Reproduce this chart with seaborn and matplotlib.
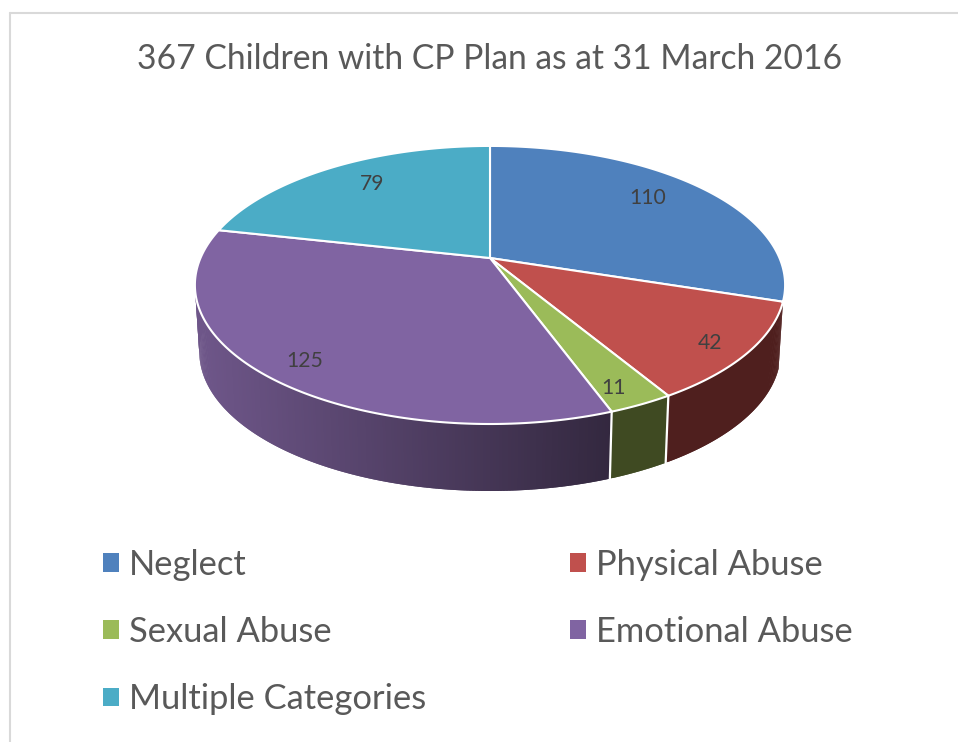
import numpy as np
import matplotlib
matplotlib.use("Agg")
import matplotlib.pyplot as plt
from matplotlib.colors import to_rgb
from matplotlib.patches import Patch
import seaborn as sns

# data
categories = ["Neglect", "Physical Abuse", "Sexual Abuse", "Emotional Abuse", "Multiple Categories"]
counts = [110, 42, 11, 125, 79]
title = "367 Children with CP Plan as at 31 March 2016"

# colours, None = wall of that slice is not visible
top_colors = sns.color_palette(["#4f81bd", "#c0504d", "#9bbb59", "#8064a2", "#4bacc6"])
wall_left = [None, "#4f1f1e", "#3f4a22", "#6e5689", None]
wall_right = [None, "#4f1f1e", "#3f4a22", "#33283f", None]

# label positions in pixels
label_pos = [(648, 198), (710, 343), (614, 388), (305, 361), (372, 184)]

sns.set_theme(style="white")
plt.rcParams["font.family"] = ["Lato", "DejaVu Sans"]

fig = plt.figure(figsize=(9.58, 7.42), dpi=100)
ax = fig.add_axes([0, 0, 1, 1])

# let pie work out the slice angles, the 3D look is drawn from them below
wedges, _ = ax.pie(counts, startangle=90, counterclock=False)
angles = [(w.theta1, w.theta2) for w in wedges]
for w in wedges:
    w.remove()

ax.set_aspect("auto")
ax.set_xlim(0, 958)
ax.set_ylim(742, 0)
ax.axis("off")

# perspective of the pie disc
cx, cy = 490, 258
a, b, k = 289.5, 133.8, 0.194
depth = 67
shrink = 0.985


def project(t, r=1.0):
    x = r * np.cos(np.radians(t))
    y = r * np.sin(np.radians(t))
    d = 1 + k * y
    return cx + a * x / d, cy - b * y / d


def lower(t):
    x, y = project(t)
    return cx + shrink * (x - cx), y + depth


# side wall first, the top covers the back half of it
for i, (t1, t2) in enumerate(angles):
    if wall_left[i] is None:
        continue
    ts = np.linspace(t1, t2, max(int(t2 - t1) * 2, 2) + 1)
    c1 = np.array(to_rgb(wall_left[i]))
    c2 = np.array(to_rgb(wall_right[i]))
    # every strip runs on under the next one, so no seams show between them
    for j in range(len(ts) - 1):
        s = ts[j]
        e = ts[min(j + 2, len(ts) - 1)]
        xa, ya = project(s)
        xb, yb = project(e)
        xc, yc = lower(e)
        xd, yd = lower(s)
        f = np.clip((xa - 200) / (610 - 200), 0, 1)
        col = c1 + (c2 - c1) * f
        ax.fill([xa, xb, xc, xd], [ya, yb, yc, yd], color=col, lw=0, zorder=1)

# white seams on the front of the wall
for t1, t2 in angles:
    x, y = project(t2)
    if 300 < y and x < 700:
        xl, yl = lower(t2)
        ax.plot([x, xl], [y, yl], color="white", lw=1.6, zorder=2)

# top of the disc
for i, (t1, t2) in enumerate(angles):
    ts = np.linspace(t1, t2, 200)
    xs, ys = project(ts)
    ax.fill(np.r_[cx, xs], np.r_[cy, ys], facecolor=top_colors[i], edgecolor="white",
            lw=1.5, joinstyle="round", zorder=3)

for val, (x, y) in zip(counts, label_pos):
    ax.text(x, y, str(val), ha="center", va="center", fontsize=15.2, color="#404040", zorder=4)

ax.text(490, 59, title, ha="center", va="center", fontsize=24.25, color="#595959")

# chart frame, only top and left are inside the crop
ax.plot([10.5, 958], [13, 13], color="#d9d9d9", lw=1.5, zorder=0)
ax.plot([10.5, 10.5], [13, 742], color="#d9d9d9", lw=1.5, zorder=0)

# legend is filled column by column
order = [0, 2, 4, 1, 3]
handles = [Patch(facecolor=top_colors[i], edgecolor="none", label=categories[i]) for i in order]
ax.legend(handles=handles, ncols=2, frameon=False, loc="upper left",
          bbox_to_anchor=(103 / 958, 1 - 549 / 742), bbox_transform=fig.transFigure,
          fontsize=24.8, labelcolor="#595959", handlelength=0.465, handleheight=0.465,
          handletextpad=0.29, columnspacing=4.17, labelspacing=1.02, borderpad=0, borderaxespad=0)

fig.savefig("out.png", dpi=100)
